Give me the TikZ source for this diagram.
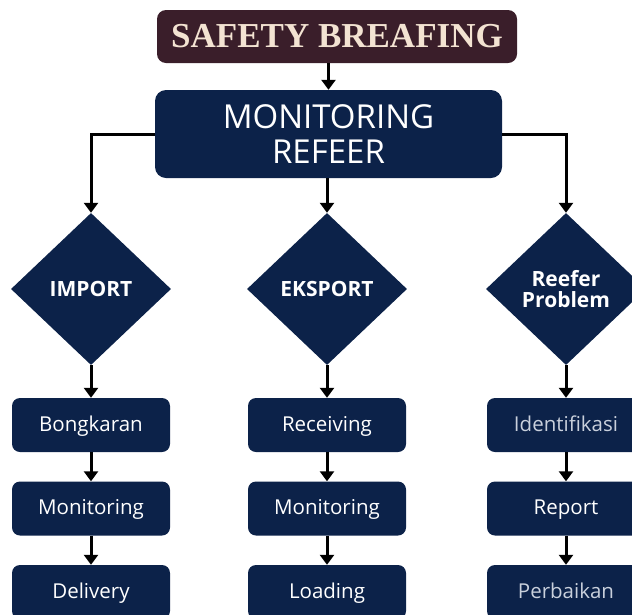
\documentclass[tikz,border=0pt]{standalone}
\usepackage{fontspec}
\setmainfont{Open Sans}
\newfontfamily\titleserif{Liberation Serif}
\usetikzlibrary{shapes.geometric,arrows.meta}
\definecolor{navy}{HTML}{0C2249}
\definecolor{maroon}{HTML}{3A1E2A}
\definecolor{cream}{HTML}{F3E3D2}
\definecolor{softtext}{HTML}{C9D0DC}
\begin{document}
\begin{tikzpicture}[x=1pt,y=-1pt,
  stepbox/.style={rectangle,rounded corners=8pt,fill=navy,text=white,
    minimum width=158pt,minimum height=54pt,inner sep=0pt,
    text height=16pt,text depth=4pt,
    font=\fontsize{20.5}{24}\selectfont},
  choice/.style={diamond,fill=navy,text=white,minimum width=160pt,
    minimum height=152pt,inner sep=0pt,align=center,
    font=\bfseries\fontsize{21}{21}\selectfont},
  arr/.style={line width=3pt,-{Triangle[width=14pt,length=10pt]}}]
\useasboundingbox (0,0) rectangle (632,614);
\clip (0,0) rectangle (632,614);

% header boxes
\node[rectangle,rounded corners=9pt,fill=maroon,text=cream,minimum width=360pt,
  minimum height=53pt,inner sep=0pt,font=\titleserif\bfseries\fontsize{35}{37}\selectfont]
  (safety) at (337,36.5) {SAFETY BREAFING};
\node[rectangle,rounded corners=11pt,fill=navy,text=white,minimum width=347pt,
  minimum height=88pt,inner sep=0pt,align=center,font=\fontsize{33}{35}\selectfont]
  (mon) at (328.5,134) {MONITORING\\REFEER};

% decision diamonds
\node[choice] (imp) at (91,289) {IMPORT};
\node[choice] (eks) at (327,289) {EKSPORT};
\node[choice] (ref) at (566,289) {Reefer\\Problem};

% process steps
\node[stepbox] (b1) at (91,425) {Bongkaran};
\node[stepbox] (b2) at (91,508.5) {Monitoring};
\node[stepbox] (b3) at (91,592) {Delivery};
\node[stepbox] (e1) at (327,425) {Receiving};
\node[stepbox] (e2) at (327,508.5) {Monitoring};
\node[stepbox] (e3) at (327,592) {Loading};
\node[stepbox,text=softtext] (r1) at (566,425) {Identifikasi};
\node[stepbox] (r2) at (566,508.5) {Report};
\node[stepbox,text=softtext] (r3) at (566,592) {Perbaikan};

% connectors
\draw[arr] (safety.south -| mon.north) -- (mon.north);
\draw[arr] (mon.west) -| (imp.north);
\draw[arr] (mon.south -| eks.north) -- (eks.north);
\draw[arr] (mon.east) -| (ref.north);
\foreach \d/\a/\b/\c in {imp/b1/b2/b3,eks/e1/e2/e3,ref/r1/r2/r3}{
  \draw[arr] (\d.south) -- (\a.north);
  \draw[arr] (\a.south) -- (\b.north);
  \draw[arr] (\b.south) -- (\c.north);
}
\end{tikzpicture}
\end{document}
